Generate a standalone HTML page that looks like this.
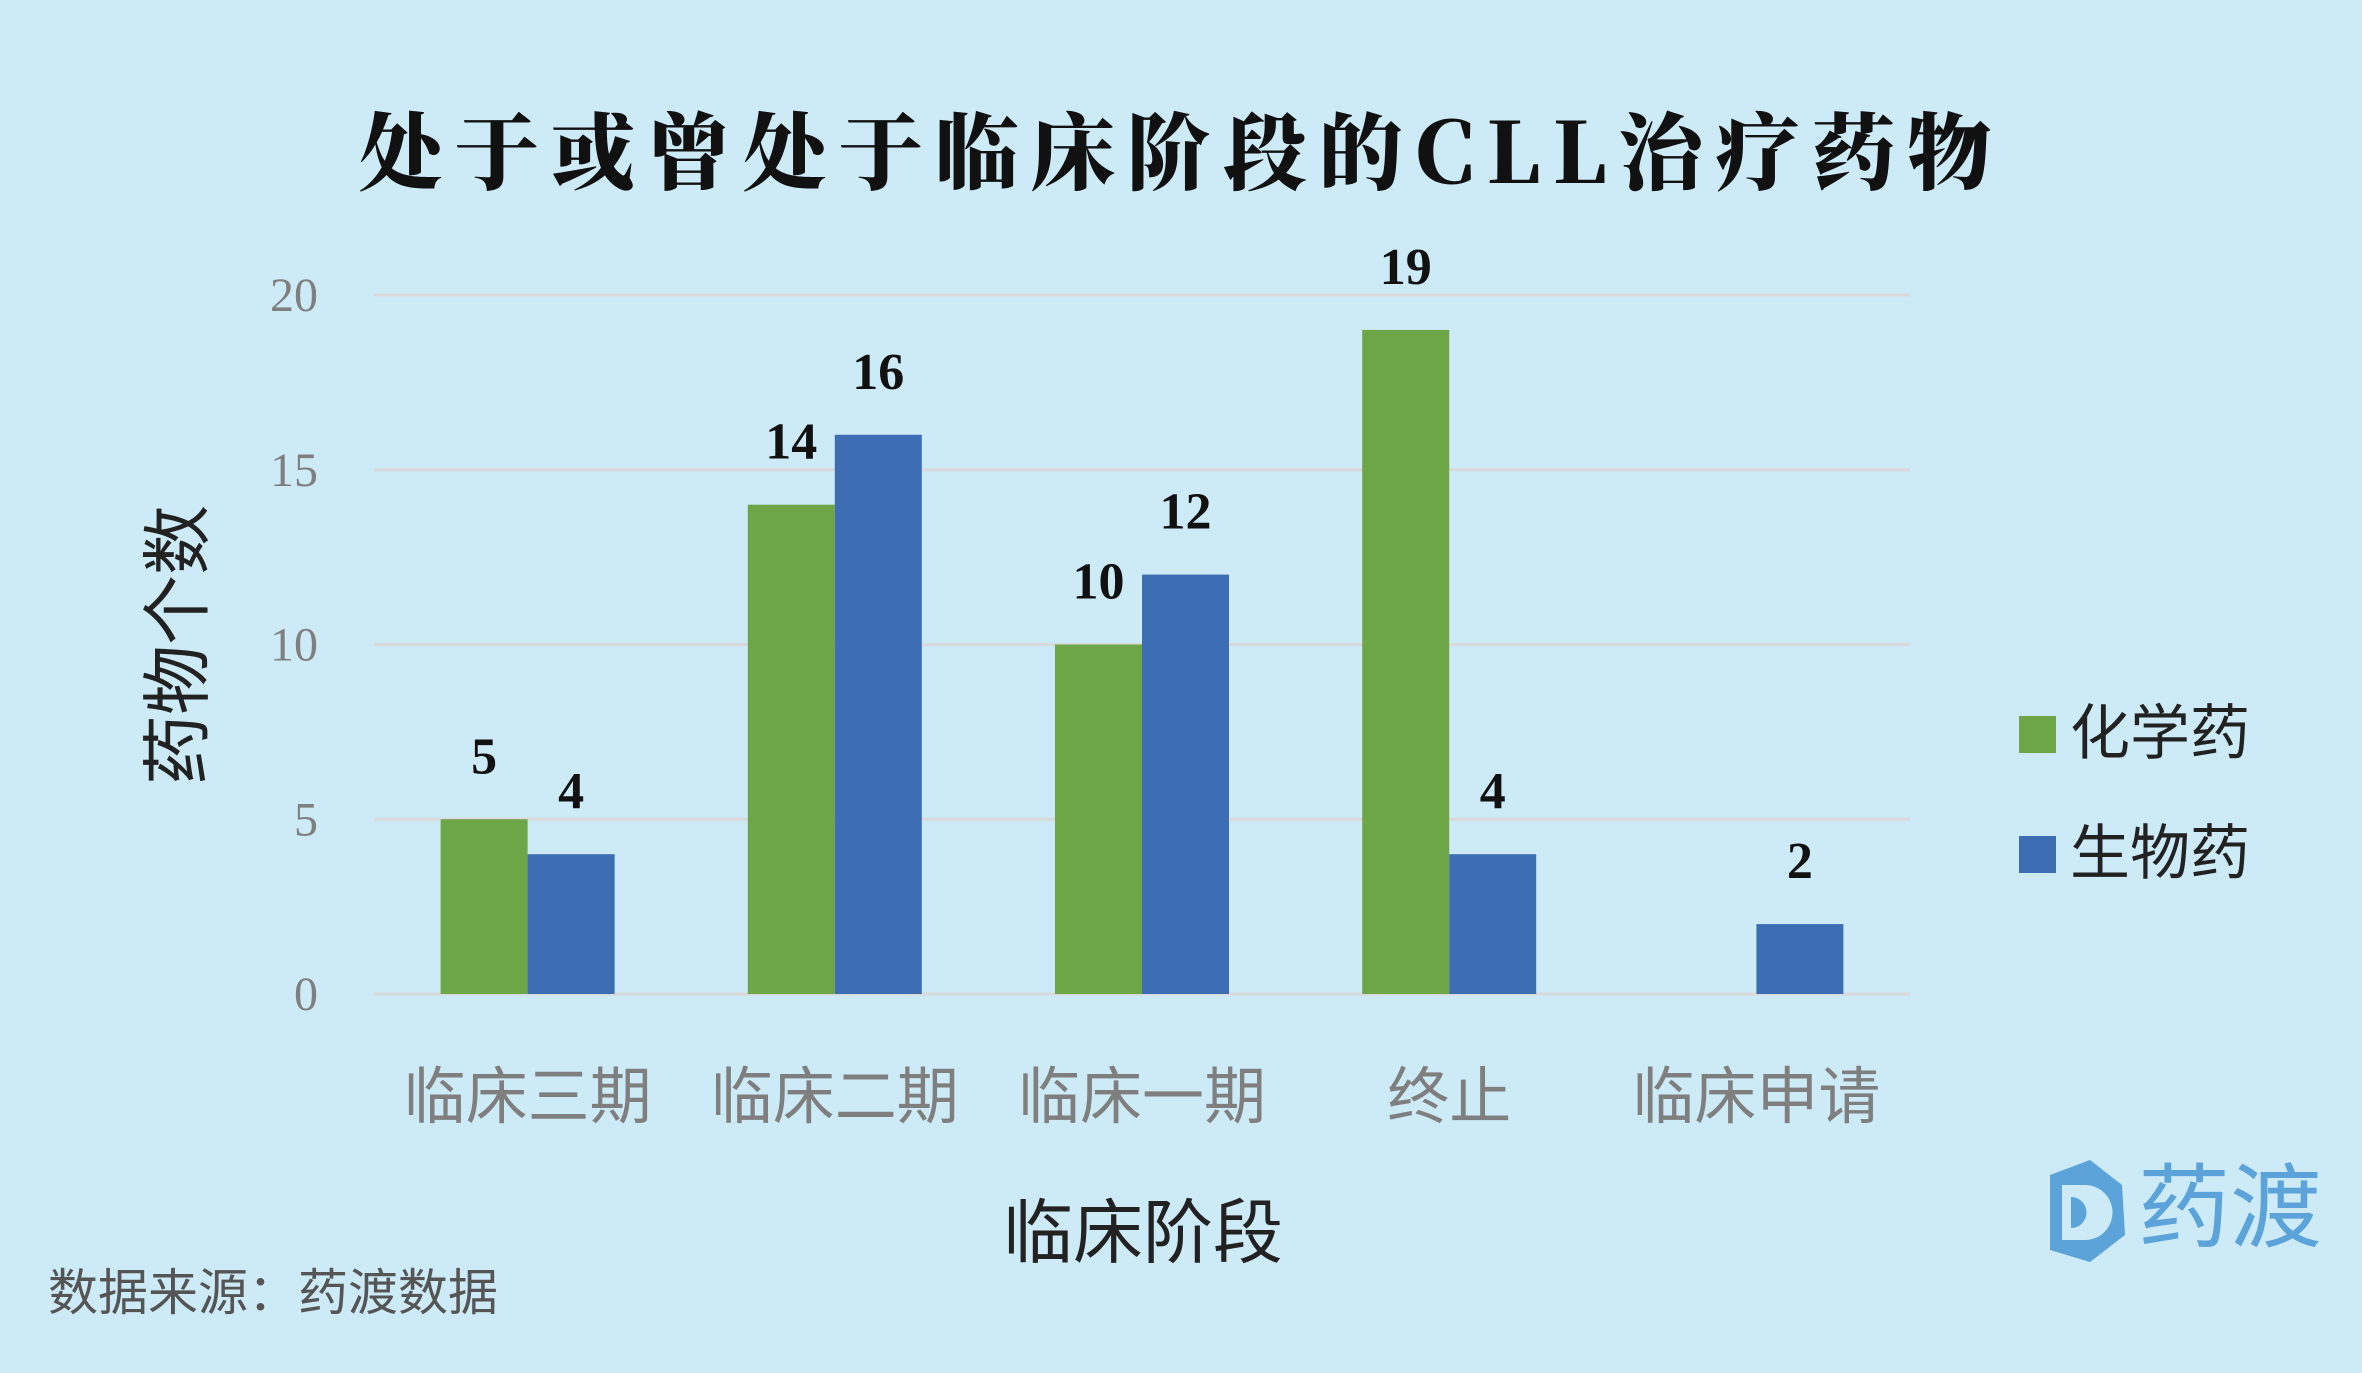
<!DOCTYPE html>
<html><head><meta charset="utf-8"><style>
html,body{margin:0;padding:0;background:#cdeaf7;}
svg{display:block;}
</style></head><body>
<svg id="chart" width="2362" height="1373" xmlns="http://www.w3.org/2000/svg">
<rect width="2362" height="1373" fill="#cdeaf7"/>
<text x="1181" y="183" text-anchor="middle" letter-spacing="12" font-family="'Noto Serif CJK SC','Liberation Serif',serif" font-weight="900" font-size="84" fill="#111">处于或曾处于临床阶段的CLL治疗药物</text>
<g id="grid"></g>
<g id="yticks"></g>
<g id="bars"></g>
<g id="xticks"></g>
<text transform="translate(202,645) rotate(-90)" text-anchor="middle" font-family="'Liberation Sans','Noto Sans CJK SC',sans-serif" font-size="70" fill="#222">药物个数</text>
<text x="1143" y="1257" text-anchor="middle" font-family="'Liberation Sans','Noto Sans CJK SC',sans-serif" font-size="70" fill="#222">临床阶段</text>
<g>
<rect x="2019" y="716" width="37" height="37" fill="#6ca646"/>
<text x="2070" y="754" font-family="'Liberation Sans','Noto Sans CJK SC',sans-serif" font-size="60" fill="#222">化学药</text>
<rect x="2019" y="836" width="37" height="37" fill="#3d6db3"/>
<text x="2070" y="874" font-family="'Liberation Sans','Noto Sans CJK SC',sans-serif" font-size="60" fill="#222">生物药</text>
</g>
<text x="48" y="1310" font-family="'Liberation Sans','Noto Sans CJK SC',sans-serif" font-size="50" fill="#555">数据来源：药渡数据</text>
<g>
<path d="M2050 1175 L2090 1160 L2122 1185 L2125 1235 L2090 1262 L2050 1250 Z" fill="#5ba3d9"/>
<path d="M2062 1185 L2062 1240 L2085 1240 A27 27 0 0 0 2085 1185 Z" fill="#cdeaf7"/>
<path d="M2071 1197 L2071 1228 A15 15 0 0 0 2071 1197 Z" fill="#5ba3d9"/>
<text x="2138" y="1240" font-family="'Noto Sans CJK SC',sans-serif" font-size="92" fill="#5ba3d9">药渡</text>
</g>
</svg>
<script>
const categories=["临床三期","临床二期","临床一期","终止","临床申请"];
const chemValues=[5,14,10,19,0];
const bioValues=[4,16,12,4,2];
const yTicks=[0,5,10,15,20];
const NS="http://www.w3.org/2000/svg";
const x0=374,x1=1910,y0=994,y1=295,yMax=20;
const band=(x1-x0)/categories.length;
const yScale=v=>y0-(v/yMax)*(y0-y1);
const xCenter=i=>x0+band*(i+0.5);
const barW=87;
function mk(tag,attrs,parent){const e=document.createElementNS(NS,tag);for(const k in attrs)e.setAttribute(k,attrs[k]);parent.appendChild(e);return e;}
const grid=document.getElementById('grid'),yt=document.getElementById('yticks'),bars=document.getElementById('bars'),xt=document.getElementById('xticks');
yTicks.forEach(t=>{
  const l=mk('line',{x1:x0,x2:x1,y1:yScale(t),y2:yScale(t),stroke:'#d9d9d9','stroke-width':3},grid);
  
  
  const tx=mk('text',{x:318,y:yScale(t)+16,'text-anchor':'end','font-family':"'Liberation Serif',serif",'font-size':48,fill:'#7f7f7f'},yt);
  tx.textContent=t;
  
  
});
function drawBar(v,x,color,name){
  if(v>0){
    const r=mk('rect',{x:x,y:yScale(v),width:barW,height:y0-yScale(v),fill:color},bars);
    
    
    const t=mk('text',{x:x+barW/2,y:yScale(v)-46,'text-anchor':'middle','font-family':"'Liberation Serif',serif",'font-weight':'bold','font-size':52,fill:'#111'},bars);
    t.textContent=v;
    
    
  }
}
categories.forEach((c,i)=>{
  const cx=xCenter(i);
  drawBar(chemValues[i],cx-barW,'#6ca646','bar-chem');
  drawBar(bioValues[i],cx,'#3d6db3','bar-bio');
  const t=mk('text',{x:cx,y:1118,'text-anchor':'middle','font-family':"'Liberation Sans','Noto Sans CJK SC',sans-serif",'font-size':62,fill:'#7f7f7f'},xt);
  t.textContent=c;
  
  
});
</script>
</body></html>
